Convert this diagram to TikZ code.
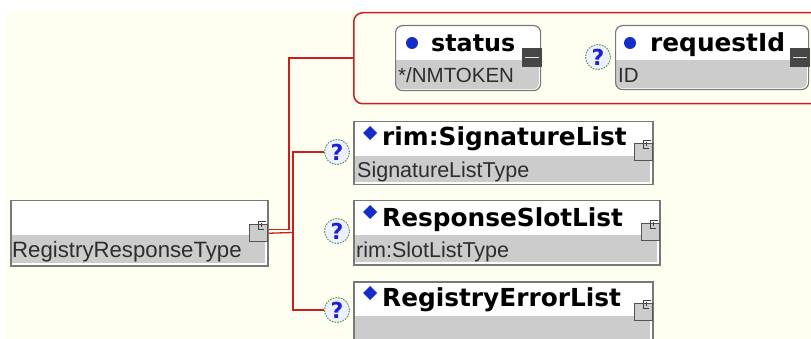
\documentclass[tikz,border=0pt]{standalone}
\usepackage{fontspec}
\newfontfamily\vb{DejaVu Sans}
\newfontfamily\ar{Liberation Sans}
\definecolor{cream}{RGB}{255,255,241}
\definecolor{band}{RGB}{204,204,204}
\definecolor{boxline}{RGB}{120,120,120}
\definecolor{conred}{RGB}{205,30,30}
\definecolor{qfill}{RGB}{236,240,255}
\definecolor{qblue}{RGB}{30,30,215}
\definecolor{dotblue}{RGB}{20,45,200}
\definecolor{minusfill}{RGB}{70,70,70}
\definecolor{txtgray}{RGB}{45,45,45}
\tikzset{
  conn/.style={draw=conred, line width=1.3pt},
  grpbox/.style={draw=conred, line width=1.5pt, rounded corners=9pt, fill=cream, anchor=north west, inner sep=0},
  attbox/.style={draw=boxline, line width=1.2pt, rounded corners=7pt, anchor=north west, inner sep=0},
  elbox/.style={draw=boxline, line width=1.5pt, anchor=north west, inner sep=0},
  qmark/.style={circle, draw=boxline!80!green, dash pattern=on 1.6pt off 1.2pt, line width=1pt, fill=qfill, minimum size=25pt, inner sep=0, text=qblue, font=\vb\bfseries\fontsize{22}{22}\selectfont},
  namet/.style={anchor=base west, inner sep=0, font=\vb\bfseries\fontsize{24.8}{25}\selectfont},
  typet/.style={anchor=base west, inner sep=0, text=txtgray, font=\ar\fontsize{21.5}{22}\selectfont},
  expicon/.style={draw=boxline!70!black, line width=0.9pt, fill=band, anchor=north west, inner sep=0, minimum width=18pt, minimum height=17pt},
  minusicon/.style={fill=minusfill, anchor=north west, inner sep=0, minimum width=20pt, minimum height=19pt},
  glyph/.style={black!75, line width=0.9pt},
}
\begin{document}
\begin{tikzpicture}[x=1pt,y=-1pt]
\useasboundingbox (0,0) rectangle (811,339);
\fill[white] (0,0) rectangle (811,339);
\fill[cream] (6,11) rectangle (811,339);

% attribute group
\node[grpbox, minimum width=480pt, minimum height=91pt] (grp) at (353,12) {};

% status attribute
\fill[white, rounded corners=7pt] (395,25) rectangle (540,90);
\begin{scope}
\clip[rounded corners=6pt] (396,26) rectangle (539,89);
\fill[band] (396,60) rectangle (539,89);
\end{scope}
\node[attbox, minimum width=145pt, minimum height=65pt] (status) at (395,25) {};
\node[minusicon] (m1) at (522,48) {};
\draw[white!80!gray, line width=1.2pt] ([xshift=3pt]m1.west) -- ([xshift=-3pt]m1.east);
\fill[dotblue] (412,43) circle[radius=6];
\node[namet, font=\vb\bfseries\fontsize{23.8}{24}\selectfont] (tstatus) at (431,52) {status};
\node[typet, font=\ar\fontsize{20.5}{21}\selectfont] (tnm) at (398,83) {*/NMTOKEN};

% requestId attribute
\node[qmark] (q0) at (598,57) {?};
\fill[white, rounded corners=7pt] (615,25) rectangle (808,89);
\begin{scope}
\clip[rounded corners=6pt] (616,26) rectangle (807,88);
\fill[band] (616,60) rectangle (807,88);
\end{scope}
\node[attbox, minimum width=193pt, minimum height=64pt] (req) at (615,25) {};
\node[minusicon] (m2) at (790,48) {};
\draw[white!80!gray, line width=1.2pt] ([xshift=3pt]m2.west) -- ([xshift=-3pt]m2.east);
\fill[dotblue] (630,43) circle[radius=6];
\node[namet] (treq) at (650,52) {requestId};
\node[typet, font=\ar\fontsize{20.5}{21}\selectfont] (tid) at (618,83) {ID};

% type box
\fill[white] (10,200) rectangle (267,265);
\fill[band] (12,235) rectangle (265,263);
\node[elbox, minimum width=257pt, minimum height=65pt] (type) at (10,200) {};
\node[typet, font=\ar\fontsize{22.2}{23}\selectfont] (ttype) at (12,257) {RegistryResponseType};
\node[expicon] (e0) at (249,224) {};
\draw[glyph] ([xshift=-4pt,yshift=-5pt]e0.north east) -- ++(-5,0) -- ++(0,-8) -- ++(7,0)
      ([xshift=-6pt,yshift=-3pt]e0.north east) -- ++(0,-4);

% element: rim:SignatureList
\fill[white] (353,121) rectangle (652,184);
\fill[band] (355,156) rectangle (650,182);
\node[elbox, minimum width=299pt, minimum height=63pt] (sig) at (353,121) {};
\node[expicon] (e1) at (634,143) {};
\draw[glyph] ([xshift=-4pt,yshift=-5pt]e1.north east) -- ++(-5,0) -- ++(0,-8) -- ++(7,0)
      ([xshift=-6pt,yshift=-3pt]e1.north east) -- ++(0,-4);
\fill[dotblue] (370,126) -- (377,133) -- (370,140) -- (363,133) -- cycle;
\node[namet] (tsig) at (382,146) {rim:SignatureList};
\node[typet] (tsigt) at (357,178) {SignatureListType};

% element: ResponseSlotList
\fill[white] (353,200) rectangle (659,264);
\fill[band] (355,235) rectangle (657,262);
\node[elbox, minimum width=306pt, minimum height=64pt] (slot) at (353,200) {};
\node[expicon] (e2) at (641,223) {};
\draw[glyph] ([xshift=-4pt,yshift=-5pt]e2.north east) -- ++(-5,0) -- ++(0,-8) -- ++(7,0)
      ([xshift=-6pt,yshift=-3pt]e2.north east) -- ++(0,-4);
\fill[dotblue] (370,205) -- (377,212) -- (370,219) -- (363,212) -- cycle;
\node[namet] (tslot) at (382,226) {ResponseSlotList};
\node[typet] (tslott) at (356,257) {rim:SlotListType};

% element: RegistryErrorList
\fill[white] (353,281) rectangle (652,350);
\fill[band] (355,316) rectangle (650,350);
\node[elbox, minimum width=299pt, minimum height=69pt] (err) at (353,281) {};
\node[expicon] (e3) at (634,303) {};
\draw[glyph] ([xshift=-4pt,yshift=-5pt]e3.north east) -- ++(-5,0) -- ++(0,-8) -- ++(7,0)
      ([xshift=-6pt,yshift=-3pt]e3.north east) -- ++(0,-4);
\fill[dotblue] (370,286) -- (377,293) -- (370,300) -- (363,293) -- cycle;
\node[namet] (terr) at (382,306) {RegistryErrorList};

% question marks
\node[qmark] (q1) at (337,152) {?};
\node[qmark] (q2) at (337,231) {?};
\node[qmark] (q3) at (337,310) {?};

% connectors
\coordinate (j1) at (289,58);
\coordinate (j2) at (293,232.5);
\draw[conn] ([yshift=4pt]type.east) -| (j1) -- (grp.west |- j1);
\draw[conn] (type.east) -- (j2);
\draw[conn] (q1.west) -| (j2) |- (q3.west);
\end{tikzpicture}
\end{document}
